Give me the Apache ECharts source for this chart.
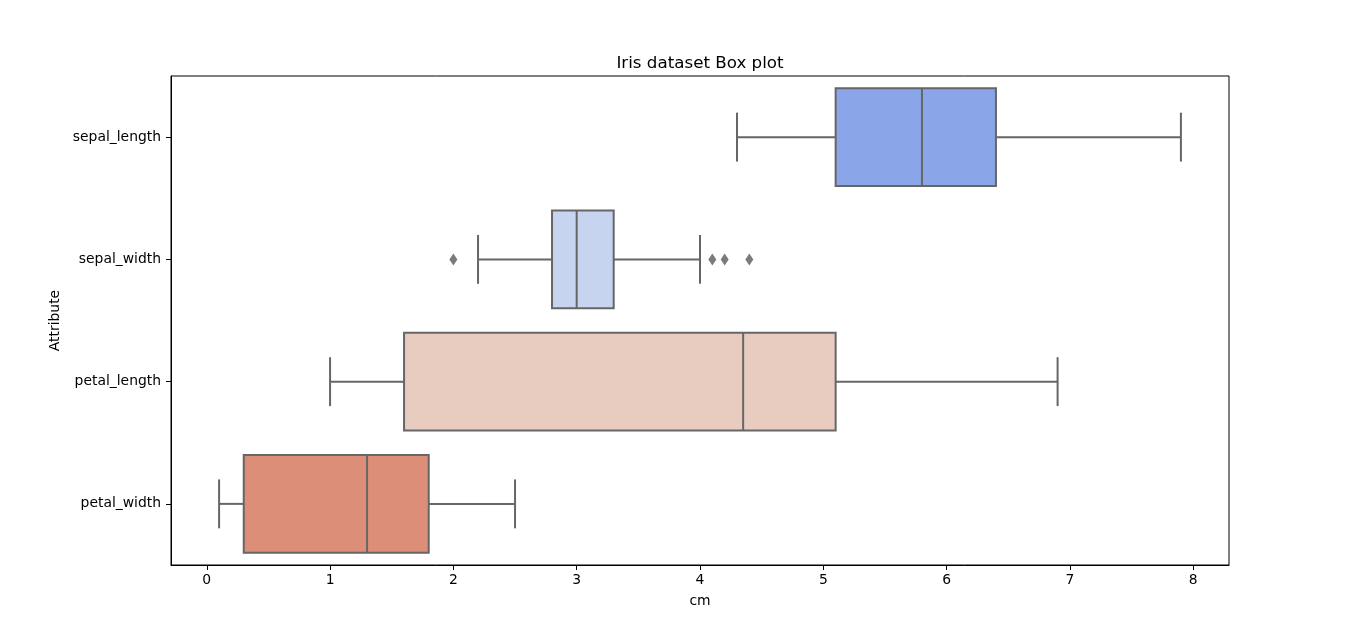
<!DOCTYPE html>
<html>
<head>
<meta charset="utf-8">
<title>Iris dataset Box plot</title>
<script src="https://cdn.jsdelivr.net/npm/echarts@6/dist/echarts.min.js"></script>
<style>
  html, body { margin: 0; padding: 0; background: #fff; }
  #chart { width: 1366px; height: 635px; }
</style>
</head>
<body>
<div id="chart"></div>
<script>
// ===== Data =====
const categories = ['sepal_length', 'sepal_width', 'petal_length', 'petal_width'];
const whiskerLow = [4.3, 2.2, 1.0, 0.1];
const q1 = [5.1, 2.8, 1.6, 0.3];
const median = [5.8, 3.0, 4.35, 1.3];
const q3 = [6.4, 3.3, 5.1, 1.8];
const whiskerHigh = [7.9, 4.0, 6.9, 2.5];
const outlierValues = [2.0, 4.1, 4.2, 4.4];
const outlierCategory = ['sepal_width', 'sepal_width', 'sepal_width', 'sepal_width'];
const xTicks = [0, 1, 2, 3, 4, 5, 6, 7, 8];

// ===== Styles =====
const boxColors = ['#8aa6e8', '#c6d4f0', '#e8ccbf', '#dc8e78'];
const lineColor = '#666666';
const font = 'DejaVu Sans';

const boxData = categories.map((c, i) => [i, whiskerLow[i], q1[i], median[i], q3[i], whiskerHigh[i]]);
const outlierData = outlierValues.map((v, i) => [v, outlierCategory[i]]);

function renderBox(params, api) {
  const i = api.value(0);
  const lo = api.coord([api.value(1), i]);
  const b1 = api.coord([api.value(2), i]);
  const md = api.coord([api.value(3), i]);
  const b3 = api.coord([api.value(4), i]);
  const hi = api.coord([api.value(5), i]);
  const band = api.size([0, 1])[1];
  const half = band * 0.4;      // box is 80% of the band
  const cap = half / 2;         // caps are half the box height
  const y = lo[1];
  const st = { stroke: lineColor, lineWidth: 2, fill: null };
  const line = (x1, y1, x2, y2) => ({ type: 'line', shape: { x1, y1, x2, y2 }, style: st });
  return {
    type: 'group',
    children: [
      line(lo[0], y, b1[0], y),
      line(b3[0], y, hi[0], y),
      line(lo[0], y - cap, lo[0], y + cap),
      line(hi[0], y - cap, hi[0], y + cap),
      {
        type: 'rect',
        shape: { x: b1[0], y: y - half, width: b3[0] - b1[0], height: half * 2 },
        style: { fill: boxColors[params.dataIndex], stroke: lineColor, lineWidth: 2 }
      },
      line(md[0], y - half, md[0], y + half)
    ]
  };
}

// ===== Chart =====
const chart = echarts.init(document.getElementById('chart'));
chart.setOption({
  animation: false,
  backgroundColor: '#fff',
  textStyle: { fontFamily: font },
  title: {
    text: 'Iris dataset Box plot',
    left: 700, top: 55, textAlign: 'center', padding: 0,
    textStyle: { fontFamily: font, fontSize: 16.7, fontWeight: 'normal', color: '#000' }
  },
  grid: {
    left: 171, right: 137, top: 76, bottom: 70,
    show: true, borderColor: '#000', borderWidth: 1, backgroundColor: 'transparent'
  },
  xAxis: {
    type: 'value', min: -0.29, max: 8.29,
    name: 'cm', nameLocation: 'middle', nameGap: 29,
    nameTextStyle: { fontFamily: font, fontSize: 13.9, color: '#000' },
    axisLine: { show: true, onZero: false, lineStyle: { color: '#000', width: 1 } },
    axisTick: { show: true, length: 5, lineStyle: { color: '#000' }, customValues: xTicks },
    axisLabel: { color: '#000', fontSize: 13.9, margin: 8, customValues: xTicks },
    splitLine: { show: false }
  },
  yAxis: {
    type: 'category', data: categories, inverse: true,
    name: 'Attribute', nameLocation: 'middle', nameGap: 101,
    nameTextStyle: { fontFamily: font, fontSize: 13.9, color: '#000' },
    axisLine: { show: true, onZero: false, lineStyle: { color: '#000', width: 1 } },
    axisTick: { show: true, alignWithLabel: true, length: 5, lineStyle: { color: '#000' } },
    axisLabel: { color: '#000', fontSize: 13.9, margin: 10, padding: [4, 0, 0, 0] },
    splitLine: { show: false }
  },
  series: [
    {
      type: 'custom',
      renderItem: renderBox,
      encode: { y: 0, x: [1, 2, 3, 4, 5] },
      data: boxData,
      z: 2
    },
    {
      type: 'scatter',
      symbol: 'diamond',
      symbolSize: [8, 12],
      itemStyle: { color: '#5a5a5a' },
      data: outlierData,
      z: 3
    }
  ]
});
</script>
</body>
</html>
